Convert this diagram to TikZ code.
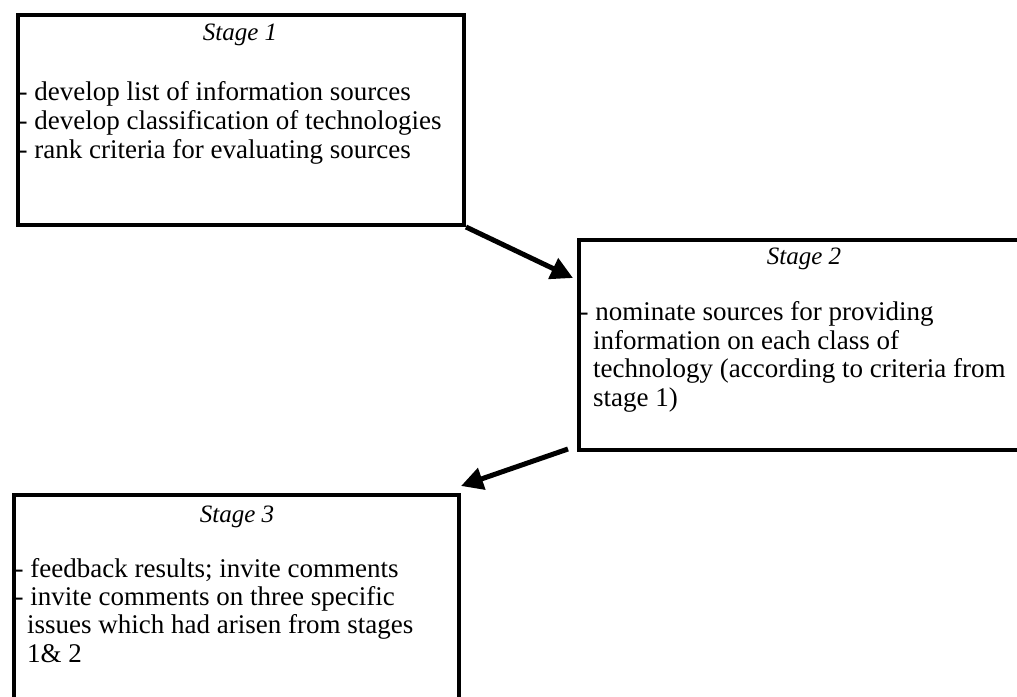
\documentclass[tikz,border=0pt]{standalone}
\usepackage{fontspec}
\setmainfont{Liberation Serif}
\usetikzlibrary{arrows.meta,calc}
\begin{document}
\begin{tikzpicture}[x=1pt,y=1pt,
  stagebox/.style={draw=black,line width=4pt,rectangle,inner sep=0pt,anchor=north west},
  stagetitle/.style={font=\fontsize{25}{29}\selectfont\itshape,inner sep=0pt,anchor=base},
  stageline/.style={font=\fontsize{27}{29}\selectfont,inner sep=0pt,anchor=base west},
  flow/.style={line width=5pt,-{Triangle[length=22pt,width=22pt]}}]
\useasboundingbox (0,0) rectangle (1017,-696);
\clip (0,0) rectangle (1017,-696);

% Stage boxes
\node[stagebox,minimum width=446pt,minimum height=210pt] (b1) at (16,-13) {};
\node[stagebox,minimum width=476pt,minimum height=210pt] (b2) at (577,-238) {};
\node[stagebox,minimum width=445pt,minimum height=228pt] (b3) at (12,-493) {};

% Titles
\node[stagetitle] (t1) at (240,-40) {Stage 1};
\node[stagetitle] (t2) at (804,-264) {Stage 2};
\node[stagetitle] (t3) at (237,-522) {Stage 3};

% Stage 1 contents
\node[stageline] (c1a) at (18.5,-100) {- develop list of information sources};
\node[stageline] (c1b) at (18.5,-129) {- develop classification of technologies};
\node[stageline] (c1c) at (18.5,-158) {- rank criteria for evaluating sources};

% Stage 2 contents
\node[stageline] (c2a) at (579.5,-320) {- nominate sources for providing};
\node[stageline] (c2b) at (593,-349) {information on each class of};
\node[stageline] (c2c) at (593,-377) {technology (according to criteria from};
\node[stageline] (c2d) at (593,-406) {stage 1)};

% Stage 3 contents
\node[stageline] (c3a) at (14.5,-577) {- feedback results; invite comments};
\node[stageline] (c3b) at (14.5,-605) {- invite comments on three specific};
\node[stageline] (c3c) at (27,-633) {issues which had arisen from stages};
\node[stageline] (c3d) at (27,-662) {1\& 2};

% Connectors
\coordinate (e1) at ($(b2.north west)+(-4,-40)$);
\coordinate (s2) at ($(b2.south west)+(-9,3)$);
\coordinate (e2) at ($(b3.north east)+(0,7)$);
\draw[flow] (b1.south east) -- (e1);
\draw[flow] (s2) -- (e2);
\end{tikzpicture}
\end{document}
